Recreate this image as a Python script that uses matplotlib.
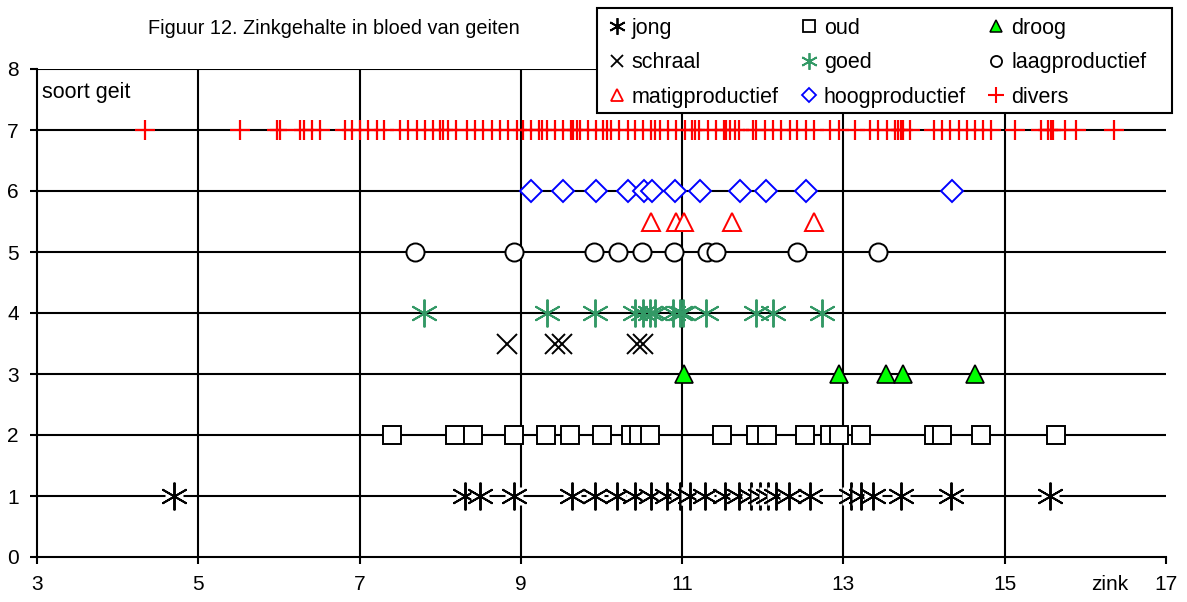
import matplotlib.pyplot as plt
from matplotlib.lines import Line2D
from matplotlib.patches import Rectangle

plt.rcParams['font.family'] = ['Liberation Sans', 'DejaVu Sans']

# zinc values per goat type (x) ; row position (y)
jong = [4.70, 8.31, 8.49, 8.91, 9.63, 9.92, 10.19, 10.42, 10.62, 10.81, 10.97, 11.10,
        11.28, 11.53, 11.70, 11.86, 11.97, 12.07, 12.17, 12.32, 12.59, 13.10, 13.22,
        13.37, 13.72, 14.34, 15.56]
oud = [7.40, 8.18, 8.41, 8.91, 9.31, 9.61, 10.01, 10.36, 10.46, 10.60, 11.50, 11.92,
       12.05, 12.52, 12.83, 12.95, 13.22, 14.12, 14.22, 14.71, 15.64]
droog = [11.02, 12.94, 13.53, 13.74, 14.63]
schraal = [8.83, 9.42, 9.51, 10.44, 10.52]
goed = [7.80, 9.32, 9.92, 10.42, 10.52, 10.60, 10.66, 10.89, 10.97, 11.01, 11.30,
        11.92, 12.13, 12.73]
laag = [7.69, 8.92, 9.91, 10.21, 10.50, 10.90, 11.31, 11.42, 12.42, 13.43]
matig = [10.61, 10.92, 11.02, 11.62, 12.64]
hoog = [9.13, 9.52, 9.93, 10.33, 10.53, 10.63, 10.91, 11.22, 11.72, 12.04, 12.54, 14.35]
divers = [4.34, 5.52, 5.97, 6.01, 6.26, 6.31, 6.41, 6.51, 6.82, 6.91, 7.00, 7.10, 7.21,
          7.30, 7.50, 7.60, 7.71, 7.81, 7.91, 8.00, 8.04, 8.10, 8.20, 8.33, 8.43, 8.53,
          8.64, 8.74, 8.84, 8.95, 9.03, 9.13, 9.23, 9.26, 9.32, 9.42, 9.52, 9.62, 9.65,
          9.69, 9.73, 9.83, 9.93, 10.02, 10.07, 10.12, 10.22, 10.33, 10.42, 10.52, 10.62,
          10.66, 10.72, 10.82, 10.92, 11.03, 11.12, 11.16, 11.21, 11.32, 11.42, 11.52,
          11.55, 11.59, 11.66, 11.71, 11.88, 11.92, 12.03, 12.13, 12.23, 12.34, 12.43,
          12.54, 12.64, 12.83, 12.95, 13.14, 13.33, 13.43, 13.54, 13.64, 13.68, 13.72,
          13.74, 13.83, 14.12, 14.22, 14.32, 14.43, 14.53, 14.63, 14.73, 14.83, 15.13,
          15.45, 15.54, 15.58, 15.60, 15.75, 15.89, 16.35]

rows = {'jong': 1, 'oud': 2, 'droog': 3, 'schraal': 3.5, 'goed': 4,
        'laagproductief': 5, 'matigproductief': 5.5, 'hoogproductief': 6, 'divers': 7}

W, H = 1187, 602
fig = plt.figure(figsize=(W / 100, H / 100), dpi=100)
ax = fig.add_axes([37 / W, 1 - 557 / H, (1166 - 37) / W, (557 - 69) / H])

ast = (6, 2, 0)
ms = 13
ams = 20  # asterisk size
# jong: each asterisk has a white background that hides earlier ones
for i, x in enumerate(jong):
    ax.plot([x], [rows['jong']], marker='s', ms=ms, mfc='white', mec='none', ls='none', zorder=3 + i * 0.01)
    ax.plot([x], [rows['jong']], marker=ast, ms=ams, mec='black', mew=1.4, ls='none', zorder=3.005 + i * 0.01)

ax.plot(oud, [rows['oud']] * len(oud), marker='s', ms=ms, mfc='white', mec='black', mew=1.4, ls='none', zorder=4)
ax.plot(droog, [rows['droog']] * len(droog), marker='^', ms=ms, mfc='#00ff00', mec='black', mew=1.2, ls='none', zorder=4)
ax.plot(schraal, [rows['schraal']] * len(schraal), marker='x', ms=ms + 1, mec='black', mew=1.4, ls='none', zorder=4)
ax.plot(goed, [rows['goed']] * len(goed), marker=ast, ms=ams, mec='#339966', mew=1.4, ls='none', zorder=4)
ax.plot(laag, [rows['laagproductief']] * len(laag), marker='o', ms=ms, mfc='white', mec='black', mew=1.4, ls='none', zorder=4)
ax.plot(matig, [rows['matigproductief']] * len(matig), marker='^', ms=ms, mfc='white', mec='red', mew=1.4, ls='none', zorder=4)
ax.plot(hoog, [rows['hoogproductief']] * len(hoog), marker='D', ms=ms - 2, mfc='white', mec='blue', mew=1.4, ls='none', zorder=4)
ax.plot(divers, [rows['divers']] * len(divers), marker='+', ms=ms + 2, mec='red', mew=1.6, ls='none', zorder=4)

ax.set_xlim(3, 17)
ax.set_ylim(0, 8)
ax.set_xticks(range(3, 18, 2))
ax.set_yticks(range(0, 9))
for yv in range(1, 9):
    ax.axhline(yv, color='black', lw=1.5, zorder=1)
for xv in range(5, 17, 2):
    ax.axvline(xv, color='black', lw=1.5, zorder=1)
for s in ['top', 'right']:
    ax.spines[s].set_visible(False)
for s in ['left', 'bottom']:
    ax.spines[s].set_linewidth(1.5)
ax.tick_params(labelsize=15, length=5, width=1.5, direction='out')
ax.tick_params(axis='x', pad=8)
ax.tick_params(axis='y', pad=8)

ax.text(3.06, 7.62, 'soort geit', fontsize=15.5, ha='left', va='center')
fig.text(1110 / W, 1 - 584 / H, 'zink', fontsize=15, ha='center', va='center')
fig.text(148 / W, 1 - 28 / H, 'Figuur 12. Zinkgehalte in bloed van geiten', fontsize=14.3, ha='left', va='center')

# legend box drawn separately, legend entries on top
fig.patches.append(Rectangle((597 / W, 1 - 113 / H), 575 / W, 105 / H, transform=fig.transFigure,
                             facecolor='white', edgecolor='black', lw=1.5, zorder=9))
lm = 8
h = {
    'jong': Line2D([], [], marker=ast, ms=12, mec='black', mew=1.3, ls='none'),
    'oud': Line2D([], [], marker='s', ms=lm, mfc='white', mec='black', mew=1.3, ls='none'),
    'droog': Line2D([], [], marker='^', ms=lm + 1, mfc='#00ff00', mec='black', mew=1.1, ls='none'),
    'schraal': Line2D([], [], marker='x', ms=lm + 1, mec='black', mew=1.3, ls='none'),
    'goed': Line2D([], [], marker=ast, ms=12, mec='#339966', mew=1.3, ls='none'),
    'laagproductief': Line2D([], [], marker='o', ms=lm, mfc='white', mec='black', mew=1.3, ls='none'),
    'matigproductief': Line2D([], [], marker='^', ms=lm + 1, mfc='white', mec='red', mew=1.3, ls='none'),
    'hoogproductief': Line2D([], [], marker='D', ms=lm - 1, mfc='white', mec='blue', mew=1.3, ls='none'),
    'divers': Line2D([], [], marker='+', ms=lm + 3, mec='red', mew=1.5, ls='none'),
}
order = ['jong', 'schraal', 'matigproductief', 'oud', 'goed', 'hoogproductief', 'droog', 'laagproductief', 'divers']
leg = fig.legend([h[k] for k in order], order, ncol=3, loc='upper left',
                 bbox_to_anchor=(608 / W, 1 - 18 / H),
                 fontsize=15.5, frameon=False, borderpad=0, labelspacing=0.62,
                 handlelength=0.8, handletextpad=0.3, borderaxespad=0, columnspacing=1.0)
leg.set_zorder(10)

fig.savefig('out.png', dpi=100)
